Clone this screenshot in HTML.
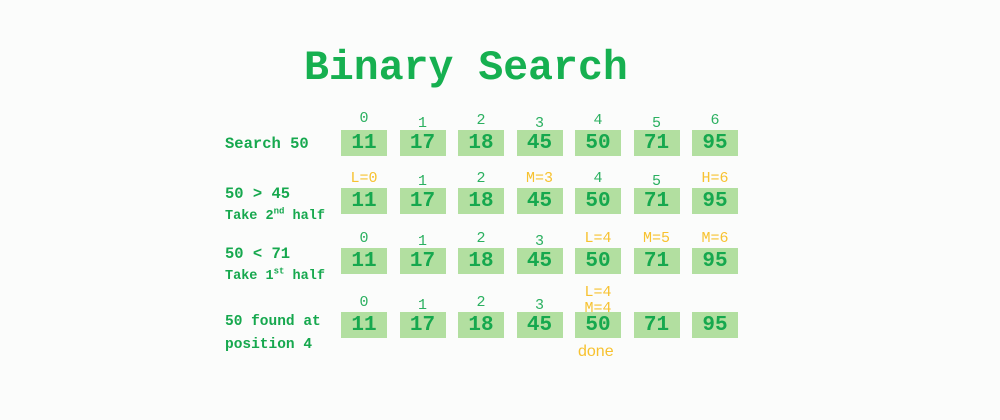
<!DOCTYPE html>
<html><head><meta charset="utf-8"><style>
body{margin:0;width:1000px;height:420px;background:#fbfcfb;position:relative;overflow:hidden;font-family:"Liberation Mono",monospace;}
.t{position:absolute;white-space:nowrap;}
.box{position:absolute;width:46px;height:26px;background:#b2dfa0;color:#16a84e;font-weight:bold;font-size:21px;text-align:center;line-height:27px;}
.idx{position:absolute;width:46px;text-align:center;font-size:15px;color:#2bb060;line-height:16px;}
.y{color:#f7c230;}
.lab{position:absolute;left:225px;color:#16a84e;font-weight:bold;font-size:15.5px;line-height:17px;white-space:nowrap;}
</style></head><body>
<div class="t" style="left:304px;top:45px;font-size:41.5px;font-weight:bold;color:#16b050;">Binary Search</div>
<div class="lab" style="top:136px;">Search 50</div>
<div class="lab" style="top:186px;">50 &gt; 45<br><span style="font-size:13.5px">Take 2<sup style="font-size:9px">nd</sup> half</span></div>
<div class="lab" style="top:246px;">50 &lt; 71<br><span style="font-size:13.5px">Take 1<sup style="font-size:9px">st</sup> half</span></div>
<div class="lab" style="top:311px;line-height:23px;font-size:14.5px;">50 found at<br>position 4</div>
<div class="t" style="left:578px;top:343px;font-size:16px;color:#f7c230;font-family:'Liberation Sans',sans-serif;">done</div>
<div id="c"></div>
<script>
const values=[11,17,18,45,50,71,95];
const rowTops=[130,188,248,312];
const labels=[
 ["0","1","2","3","4","5","6"],
 ["L=0","1","2","M=3","4","5","H=6"],
 ["0","1","2","3","L=4","M=5","M=6"],
 ["0","1","2","3","L=4\nM=4","",""]];
const c=document.getElementById('c');
rowTops.forEach((top,r)=>{
 values.forEach((v,i)=>{
  const x=341+i*58.5;
  const b=document.createElement('div');b.className='box';
  
  
  b.style.left=x+'px';b.style.top=top+'px';b.textContent=v;c.appendChild(b);
  const t=labels[r][i];if(!t)return;
  const d=document.createElement('div');d.className='idx'+(/[A-Z]/.test(t)?' y':'');
  
  
  const lines=t.split('\n');
  const stag=(i%2===1&&!/[A-Z]/.test(t))?3:0;
  let tp=top-17+stag-(r==0&&i==0?2:0);
  if(lines.length>1){tp=top-27;d.style.lineHeight='16px';}
  d.style.left=x+'px';d.style.top=tp+'px';
  d.innerHTML=lines.join('<br>');c.appendChild(d);
 });
});
</script>
</body></html>
